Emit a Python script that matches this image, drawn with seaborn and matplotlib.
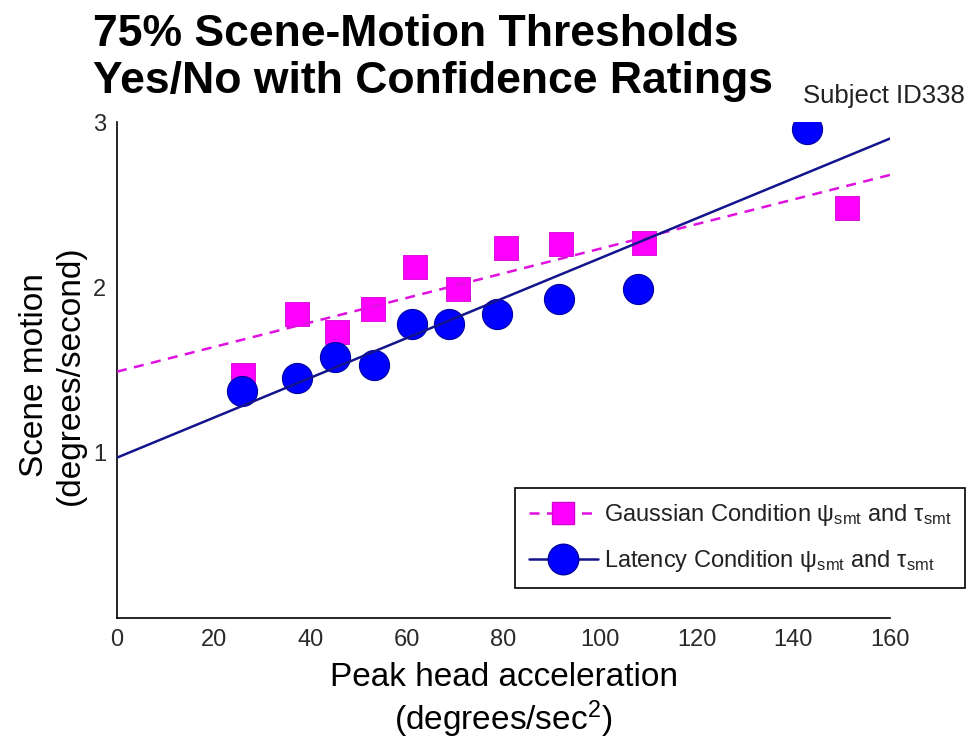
import matplotlib
matplotlib.use("Agg")
import matplotlib.pyplot as plt
import seaborn as sns
from matplotlib.lines import Line2D

# Gaussian condition thresholds (magenta squares)
gauss_x = [26.1, 37.3, 45.5, 53.0, 61.7, 70.6, 80.5, 91.9, 109.0, 151.0]
gauss_y = [1.47, 1.84, 1.73, 1.87, 2.12, 1.99, 2.24, 2.26, 2.27, 2.48]

# Latency condition thresholds (blue circles)
latency_x = [25.9, 37.3, 45.1, 53.2, 61.1, 68.7, 78.7, 91.5, 107.9, 142.9]
latency_y = [1.37, 1.45, 1.58, 1.53, 1.78, 1.78, 1.84, 1.93, 1.99, 2.96]

fit_x = [0, 160]
gauss_fit = [1.49, 2.68]
latency_fit = [0.97, 2.90]

x_ticks = [0, 20, 40, 60, 80, 100, 120, 140, 160]
y_ticks = [1, 2, 3]

gauss_label = "Gaussian Condition ψ$_{\\rm smt}$ and τ$_{\\rm smt}$"
latency_label = "Latency Condition ψ$_{\\rm smt}$ and τ$_{\\rm smt}$"

sns.set_theme(style="white")
plt.rcParams["font.family"] = ["Liberation Sans", "DejaVu Sans"]
plt.rcParams["mathtext.fontset"] = "custom"
plt.rcParams["mathtext.rm"] = "Liberation Sans"
plt.rcParams["mathtext.it"] = "Liberation Sans:italic"

MAGENTA = "#FF00FF"
MAG_LINE = "#E010E0"
BLUE = "#0000FF"
NAVY = "#14148C"

fig = plt.figure(figsize=(9.7, 7.51), dpi=100)
ax = fig.add_axes([117 / 970, 1 - 618 / 751, 773 / 970, 496 / 751])

# fit lines
sns.lineplot(x=fit_x, y=gauss_fit, ax=ax, color=MAG_LINE, linewidth=1.8,
             linestyle=(0, (4, 3)), zorder=3)
sns.lineplot(x=fit_x, y=latency_fit, ax=ax, color=NAVY, linewidth=1.8, zorder=3)

# data points
sns.scatterplot(x=gauss_x, y=gauss_y, ax=ax, marker="s", s=300,
                color=MAGENTA, edgecolor="#D000D0", linewidth=0.6, zorder=2)
sns.scatterplot(x=latency_x, y=latency_y, ax=ax, marker="o", s=470,
                color=BLUE, edgecolor="#0000A0", linewidth=0.8, zorder=2)

ax.set_xlim(0, 160)
ax.set_ylim(0, 3)
ax.set_xticks(x_ticks)
ax.set_yticks(y_ticks)
sns.despine(ax=ax)
for side in ["left", "bottom"]:
    ax.spines[side].set_color("black")
    ax.spines[side].set_linewidth(1.2)
ax.tick_params(direction="in", length=8, width=1.2, color="black",
               labelsize=17, labelcolor="#2a2a2a", pad=8)

ax.set_xlabel("Peak head acceleration\n(degrees/sec$^2$)", fontsize=24,
              color="black", va="top")
ax.xaxis.set_label_coords(0.5, -0.088)
ax.set_ylabel("Scene motion\n(degrees/second)", fontsize=24, color="black")
ax.yaxis.set_label_coords(-0.040, 0.49)

# legend: line + marker per condition
handles = [
    Line2D([], [], color=MAG_LINE, linewidth=1.8, linestyle=(0, (4, 3)),
           marker="s", markersize=16, markerfacecolor=MAGENTA,
           markeredgecolor="#D000D0"),
    Line2D([], [], color=NAVY, linewidth=1.8, marker="o", markersize=22,
           markerfacecolor=BLUE, markeredgecolor="#0000A0"),
]
leg = ax.legend(handles, [gauss_label, latency_label], loc="upper left",
                bbox_to_anchor=(515 / 970, 1 - 488 / 751),
                bbox_transform=fig.transFigure, fontsize=17, frameon=True,
                fancybox=False, framealpha=1, edgecolor="black",
                handlelength=2.9, handletextpad=0.25, labelspacing=0.85,
                borderpad=0.6, borderaxespad=0)
leg.get_frame().set_linewidth(1.2)
for t in leg.get_texts():
    t.set_color("#222222")

fig.text(93 / 970, 1 - 14 / 751,
         "75% Scene-Motion Thresholds\nYes/No with Confidence Ratings",
         ha="left", va="top", fontsize=32, fontweight="bold", color="black")
fig.text(803 / 970, 1 - 103 / 751, "Subject ID338", ha="left",
         va="baseline", fontsize=18.5, color="#222222")

fig.savefig("out.png", dpi=100)
